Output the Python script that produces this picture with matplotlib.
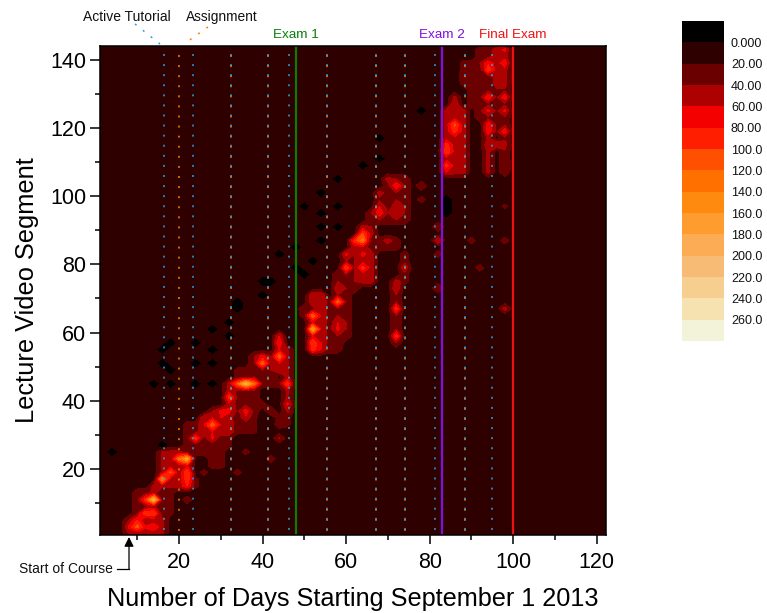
import numpy as np
import matplotlib
matplotlib.use("Agg")
import matplotlib.pyplot as plt
from matplotlib.colors import ListedColormap, BoundaryNorm
from matplotlib.lines import Line2D

plt.rcParams['font.family'] = ['Liberation Sans', 'DejaVu Sans']

W, H = 767, 613

# views per lecture segment
background = 10

# broad areas of activity: day from, day to, segment from, segment to, views
area_d0 = [8, 10, 14, 16, 16, 22, 24, 22, 28, 28, 26, 28, 32, 34, 34, 34, 38, 44, 46, 44, 36,
           52, 56, 50, 58, 60, 64, 62, 66, 72, 74, 66, 68, 70, 72,
           84, 86, 94, 98, 94, 92, 90, 94, 88, 92]
area_d1 = [12, 14, 16, 18, 20, 22, 24, 26, 30, 32, 32, 32, 32, 38, 38, 36, 42, 44, 46, 46, 44,
           54, 58, 52, 60, 62, 66, 64, 72, 72, 74, 74, 68, 72, 74,
           88, 86, 94, 98, 98, 98, 92, 98, 94, 94]
area_s0 = [1, 6, 1, 8, 15, 15, 15, 25, 22, 27, 32, 37, 36, 37, 32, 46, 48, 49, 37, 34, 46,
           55, 56, 66, 60, 74, 76, 85, 85, 58, 76, 94, 95, 98, 95,
           107, 125, 108, 108, 119, 124, 127, 134, 134, 139]
area_s1 = [6, 14, 15, 13, 25, 25, 17, 33, 26, 31, 36, 38, 46, 44, 36, 50, 53, 60, 55, 36, 46,
           72, 70, 68, 78, 84, 92, 88, 88, 76, 84, 96, 101, 106, 106,
           125, 129, 123, 122, 122, 131, 131, 144, 139, 144]
area_v = [40, 35, 45, 25, 45, 60, 25, 30, 30, 25, 60, 35, 50, 35, 25, 25, 40, 60, 45, 25, 35,
          60, 30, 30, 40, 40, 50, 50, 30, 40, 30, 40, 35, 30, 40,
          50, 45, 45, 35, 35, 35, 30, 50, 25, 30]

# local peaks
peak_days = [8, 10, 12, 10, 12, 12, 15, 15, 15, 16, 18, 20, 22, 22, 22, 22, 25, 29, 29, 30, 33, 33,
             34, 36, 38, 37, 40, 40, 44, 44, 47, 47, 36,
             53, 53, 53, 53, 53, 58, 58, 58, 51,
             59, 59, 59, 61, 61, 62, 65, 65, 65, 65, 66,
             72, 72, 72, 73, 75, 71, 68, 68, 69, 71, 73, 73, 73, 67, 78, 78,
             82, 82, 82, 82, 99, 99, 93, 90, 99,
             86, 86, 86, 85, 85, 85, 85,
             94, 94, 94, 98, 98, 94, 94, 98, 96, 98, 98,
             95, 98, 94, 98, 92, 90, 89,
             35, 42, 26, 40, 45, 43, 36, 44, 22]
peak_segs = [3, 3, 3, 6, 8, 11, 4, 8, 12, 17, 20, 23, 23, 18, 20, 16, 30, 30, 34, 38, 41, 38,
             46, 46, 46, 38, 51, 54, 53, 58, 46, 40, 36,
             66, 70, 61, 58, 56, 69, 61, 57, 68,
             69, 73, 64, 80, 83, 87, 89, 87, 80, 83, 76,
             67, 60, 73, 76, 80, 87, 98, 101, 95, 106, 104, 98, 95, 91, 104, 100,
             87, 91, 73, 83, 68, 87, 80, 87, 98,
             128, 122, 119, 116, 113, 110, 107,
             129, 126, 122, 129, 126, 119, 116, 119, 115, 115, 110,
             137, 140, 140, 143, 139, 137, 135,
             20, 23, 19, 40, 30, 38, 25, 34, 11]
peak_v = [65, 110, 65, 80, 100, 90, 80, 100, 190, 140, 105, 120, 170, 95, 100, 80, 90, 65, 115, 65, 90, 65,
          110, 190, 120, 70, 115, 70, 115, 80, 95, 65, 55,
          115, 60, 160, 100, 90, 65, 65, 40, 40,
          115, 60, 60, 100, 65, 90, 100, 130, 90, 65, 50,
          90, 90, 60, 50, 60, 50, 60, 50, 75, 50, 80, 50, 60, 40, 40, 30,
          60, 40, 40, 30, 50, 30, 30, 30, 25,
          60, 105, 90, 90, 100, 90, 60,
          80, 65, 75, 75, 65, 75, 60, 75, 60, 50, 40,
          95, 75, 75, 65, 40, 40, 30,
          28, 30, 28, 28, 42, 36, 28, 32, 32]

# spots with less views than the background
low_days = [4, 15, 17, 17, 19, 19, 19, 24, 24, 24, 29, 29, 29, 29, 32, 32, 16, 35, 35,
            40, 40, 43, 45, 49, 49, 50, 53, 55, 55, 54, 58, 58, 50, 54, 58,
            64, 68, 68, 78, 85, 85, 85, 59]
low_segs = [26, 46, 51, 55, 45, 50, 57, 46, 52, 58, 61, 56, 51, 46, 59, 64, 27, 70, 67,
            75, 72, 76, 84, 86, 79, 77, 81, 87, 95, 91, 91, 97, 97, 102, 106,
            109, 117, 111, 126, 100, 98, 95, 106]

# schedule
tutorial_days = [16.4, 23.3, 32.5, 41.3, 46.3, 55.4, 67.1, 74.1, 81.2, 88.4, 95]
assignment_days = [20, 32.5, 41.3, 55.4, 67.1, 74.1, 88.4]
exam_days = [48, 83, 100]
exam_names = ['Exam 1', 'Exam 2', 'Final Exam']
exam_colors = ['#0a7d0a', '#8010e0', '#f01010']

levels = [-200, 0, 20, 40, 60, 80, 100, 120, 140, 160, 180, 200, 220, 240, 260, 280]
level_colors = ['#000000', '#2e0000', '#6b0000', '#ad0000', '#f50000', '#ff1e00', '#ff4f00', '#ff7000',
                '#ff8a10', '#ff9c30', '#fbac55', '#f8bb75', '#f6cf90', '#f5e2b0', '#f2f3d8']
bar_labels = ['0.000', '20.00', '40.00', '60.00', '80.00', '100.0', '120.0', '140.0', '160.0',
              '180.0', '200.0', '220.0', '240.0', '260.0']

# grid
days = np.arange(0, 126, 2)
segs = np.arange(-1, 149, 2)
Z = np.full((len(segs), len(days)), float(background))


def cell(values, x):
    return np.abs(values - x).argmin()


for d0, d1, s0, s1, v in zip(area_d0, area_d1, area_s0, area_s1, area_v):
    Z[cell(segs, s0):cell(segs, s1) + 1, cell(days, d0):cell(days, d1) + 1] = v
for d, s, v in zip(peak_days, peak_segs, peak_v):
    Z[cell(segs, s), cell(days, d)] = v
for d, s in zip(low_days, low_segs):
    Z[cell(segs, s), cell(days, d)] = -30

cmap = ListedColormap(level_colors)
norm = BoundaryNorm(levels, cmap.N)

fig = plt.figure(figsize=(W / 100, H / 100), dpi=100)
ax = fig.add_axes([100 / W, 1 - 535 / H, 506 / W, 489 / H])
ax.contourf(days, segs, Z, levels=levels, cmap=cmap, norm=norm)

dots = (0, (1.3, 5.3))
for d in assignment_days:
    ax.plot([d, d], [141.4, 0.65], color='#ff8000', lw=1.1, ls=dots)
for d in tutorial_days:
    ax.plot([d, d], [141.7, 0.65], color='#2f9fe0', lw=1.1, ls=dots)
for d, c in zip(exam_days, exam_colors):
    ax.axvline(d, color=c, lw=1.6)

ax.set_xlim(1.1, 122.2)
ax.set_ylim(0.65, 144)
ax.set_xticks([20, 40, 60, 80, 100, 120])
ax.set_xticks([10, 30, 50, 70, 90, 110], minor=True)
ax.set_yticks([20, 40, 60, 80, 100, 120, 140])
ax.set_yticks([10, 30, 50, 70, 90, 110, 130], minor=True)
ax.tick_params(axis='x', which='major', length=6.5, width=1.1, labelsize=15.5, pad=6)
ax.tick_params(axis='y', which='major', length=7, width=1.1, labelsize=15.5, pad=3)
ax.tick_params(which='minor', length=3.5, width=1.1)
for side in ax.spines.values():
    side.set_linewidth(1.1)
ax.set_xlabel('Number of Days Starting September 1 2013', fontsize=18.2, labelpad=10)
ax.set_ylabel('Lecture Video Segment', fontsize=18.3, labelpad=8)

# labels above the plot
for d, name, c in zip(exam_days, exam_names, exam_colors):
    ax.annotate(name, xy=(d, 144), xytext=(0, 3.5), textcoords='offset points', ha='center', va='bottom',
                color=c, fontsize=9.7, annotation_clip=False)
fig.text(127 / W, 1 - 17 / H, 'Active Tutorial', ha='center', va='center', fontsize=10, color='#111111')
fig.text(221.5 / W, 1 - 17 / H, 'Assignment', ha='center', va='center', fontsize=9.9, color='#111111')
fig.add_artist(Line2D([135 / W, 160 / W], [1 - 24 / H, 1 - 44 / H], color='#2f9fe0', lw=1.1, ls=dots))
fig.add_artist(Line2D([208 / W, 184 / W], [1 - 27 / H, 1 - 44 / H], color='#ff8000', lw=1.1, ls=dots))

# start of course arrow
fig.add_artist(Line2D([117 / W, 129 / W], [1 - 569 / H, 1 - 569 / H], color='k', lw=0.9))
ax.annotate('', xy=(129, H - 537), xytext=(129, H - 569), xycoords='figure pixels', textcoords='figure pixels',
            arrowprops=dict(arrowstyle='-|>', color='k', lw=0.9, mutation_scale=14, shrinkA=0, shrinkB=0),
            annotation_clip=False)
fig.text(113 / W, 1 - 569 / H, 'Start of Course', ha='right', va='center', fontsize=10, color='#111111')

# colour scale
cax = fig.add_axes([682 / W, 1 - 341 / H, 42 / W, 320 / H])
cax.pcolormesh([0, 1], np.arange(len(level_colors) + 1), np.arange(len(level_colors)).reshape(-1, 1),
               cmap=cmap, vmin=-0.5, vmax=len(level_colors) - 0.5)
cax.invert_yaxis()
cax.set_xticks([])
cax.yaxis.tick_right()
cax.set_yticks(np.arange(1, len(level_colors)))
cax.set_yticklabels(bar_labels)
cax.tick_params(axis='y', length=0, labelsize=9, pad=5, labelcolor='#111111')
for side in cax.spines.values():
    side.set_visible(False)

fig.savefig('out.png', dpi=100)
